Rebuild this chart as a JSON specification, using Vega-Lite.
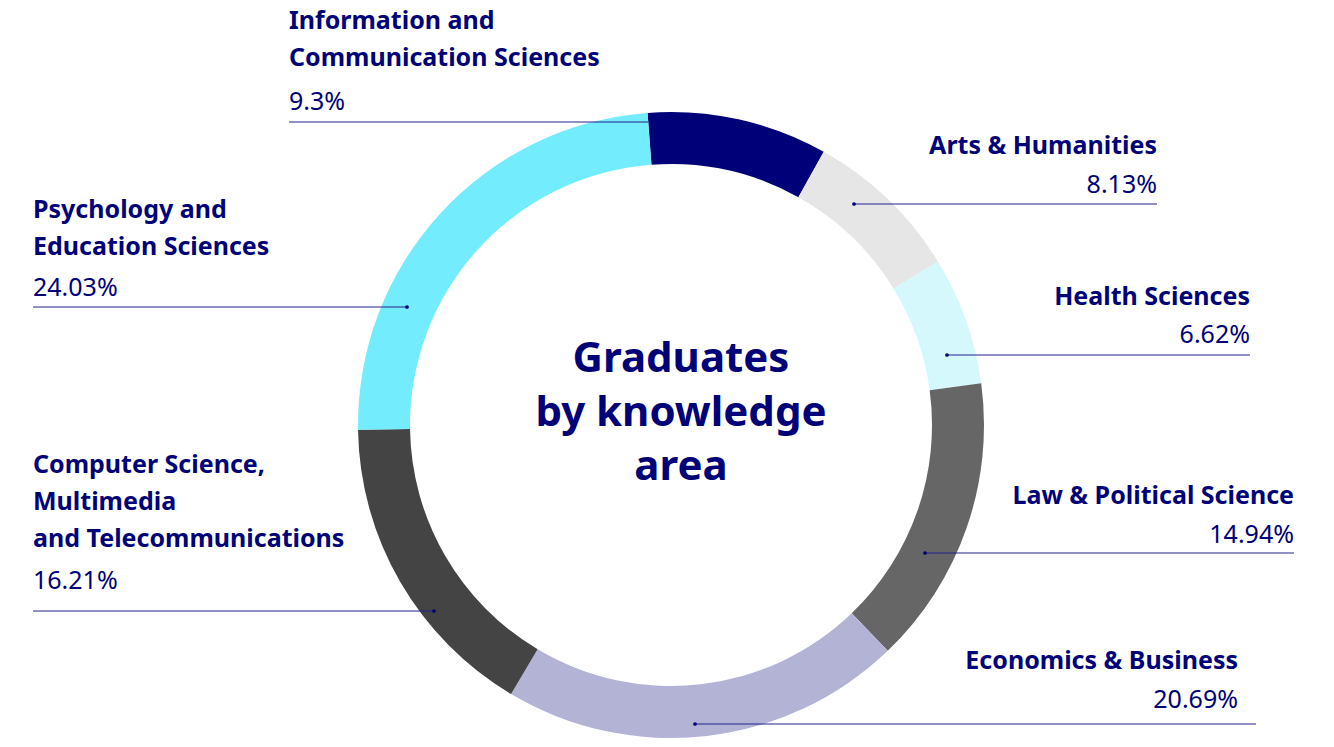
{
  "$schema": "https://vega.github.io/schema/vega-lite/v6.json",
  "width": 1334,
  "height": 747,
  "autosize": {"type": "none"},
  "padding": 0,
  "background": "#ffffff",
  "config": {"view": {"stroke": null}, "font": "Noto Sans"},
  "data": {
    "values": [
      {"area": "Information and Communication Sciences", "share": 9.3, "rank": 1, "title": ["Information and", "Communication Sciences"], "side": "left", "textX": 289, "titleY": 29, "pctY": 110, "lineY": 122, "lineFrom": 289, "lineTo": 648, "dotX": null},
      {"area": "Arts & Humanities", "share": 8.13, "rank": 2, "title": ["Arts & Humanities"], "side": "right", "textX": 1157, "titleY": 154, "pctY": 193, "lineY": 204, "lineFrom": 854, "lineTo": 1157, "dotX": 854},
      {"area": "Health Sciences", "share": 6.62, "rank": 3, "title": ["Health Sciences"], "side": "right", "textX": 1250, "titleY": 305, "pctY": 343, "lineY": 355, "lineFrom": 947, "lineTo": 1250, "dotX": 947},
      {"area": "Law & Political Science", "share": 14.94, "rank": 4, "title": ["Law & Political Science"], "side": "right", "textX": 1294, "titleY": 504, "pctY": 543, "lineY": 553, "lineFrom": 925, "lineTo": 1294, "dotX": 925},
      {"area": "Economics & Business", "share": 20.69, "rank": 5, "title": ["Economics & Business"], "side": "right", "textX": 1238, "titleY": 669, "pctY": 708, "lineY": 724, "lineFrom": 695, "lineTo": 1256, "dotX": 695},
      {"area": "Computer Science, Multimedia and Telecommunications", "share": 16.21, "rank": 6, "title": ["Computer Science,", "Multimedia", "and Telecommunications"], "side": "left", "textX": 33, "titleY": 473, "pctY": 589, "lineY": 611, "lineFrom": 33, "lineTo": 434, "dotX": 434},
      {"area": "Psychology and Education Sciences", "share": 24.03, "rank": 7, "title": ["Psychology and", "Education Sciences"], "side": "left", "textX": 33, "titleY": 218, "pctY": 296, "lineY": 307, "lineFrom": 33, "lineTo": 407, "dotX": 407}
    ]
  },
  "layer": [
    {
      "mark": {"type": "arc", "outerRadius": 313, "innerRadius": 261, "stroke": null},
      "encoding": {
        "x": {"datum": 671, "type": "quantitative", "scale": {"domain": [0, 1334], "nice": false, "zero": false}, "axis": null},
        "y": {"datum": 425, "type": "quantitative", "scale": {"domain": [0, 747], "nice": false, "zero": false, "reverse": true}, "axis": null},
        "theta": {"field": "share", "type": "quantitative", "stack": true, "scale": {"range": [-0.075, 6.2082]}},
        "order": {"field": "rank", "type": "quantitative"},
        "color": {
          "field": "area", "type": "nominal", "legend": null,
          "scale": {
            "domain": ["Information and Communication Sciences", "Arts & Humanities", "Health Sciences", "Law & Political Science", "Economics & Business", "Computer Science, Multimedia and Telecommunications", "Psychology and Education Sciences"],
            "range": ["#000078", "#e6e6e6", "#d4f8fc", "#666666", "#b3b3d6", "#444444", "#73ecfe"]
          }
        }
      }
    },
    {
      "mark": {"type": "rule", "color": "#23238a", "strokeWidth": 1.2},
      "encoding": {
        "x": {"field": "lineFrom", "type": "quantitative"},
        "x2": {"field": "lineTo"},
        "y": {"field": "lineY", "type": "quantitative"}
      }
    },
    {
      "mark": {"type": "point", "filled": true, "size": 14, "color": "#000078", "opacity": 1},
      "encoding": {
        "x": {"field": "dotX", "type": "quantitative"},
        "y": {"field": "lineY", "type": "quantitative"}
      }
    },
    {
      "transform": [{"filter": "datum.side === 'left'"}],
      "mark": {"type": "text", "align": "left", "baseline": "alphabetic", "fontSize": 25, "fontWeight": "bold", "lineHeight": 37, "color": "#000078"},
      "encoding": {
        "x": {"field": "textX", "type": "quantitative"},
        "y": {"field": "titleY", "type": "quantitative"},
        "text": {"field": "title"}
      }
    },
    {
      "transform": [{"filter": "datum.side === 'right'"}],
      "mark": {"type": "text", "align": "right", "baseline": "alphabetic", "fontSize": 25, "fontWeight": "bold", "lineHeight": 37, "color": "#000078"},
      "encoding": {
        "x": {"field": "textX", "type": "quantitative"},
        "y": {"field": "titleY", "type": "quantitative"},
        "text": {"field": "title"}
      }
    },
    {
      "transform": [{"filter": "datum.side === 'left'"}],
      "mark": {"type": "text", "align": "left", "baseline": "alphabetic", "fontSize": 25, "fontWeight": "normal", "color": "#000078", "text": {"expr": "format(datum.share, '.2~f') + '%'"}},
      "encoding": {
        "x": {"field": "textX", "type": "quantitative"},
        "y": {"field": "pctY", "type": "quantitative"}
      }
    },
    {
      "transform": [{"filter": "datum.side === 'right'"}],
      "mark": {"type": "text", "align": "right", "baseline": "alphabetic", "fontSize": 25, "fontWeight": "normal", "color": "#000078", "text": {"expr": "format(datum.share, '.2~f') + '%'"}},
      "encoding": {
        "x": {"field": "textX", "type": "quantitative"},
        "y": {"field": "pctY", "type": "quantitative"}
      }
    },
    {
      "data": {"values": [{"heading": ["Graduates", "by knowledge", "area"]}]},
      "mark": {"type": "text", "align": "center", "baseline": "alphabetic", "fontSize": 42, "fontWeight": "bold", "lineHeight": 54, "color": "#000078"},
      "encoding": {
        "x": {"datum": 681, "type": "quantitative"},
        "y": {"datum": 372, "type": "quantitative"},
        "text": {"field": "heading"}
      }
    }
  ]
}
